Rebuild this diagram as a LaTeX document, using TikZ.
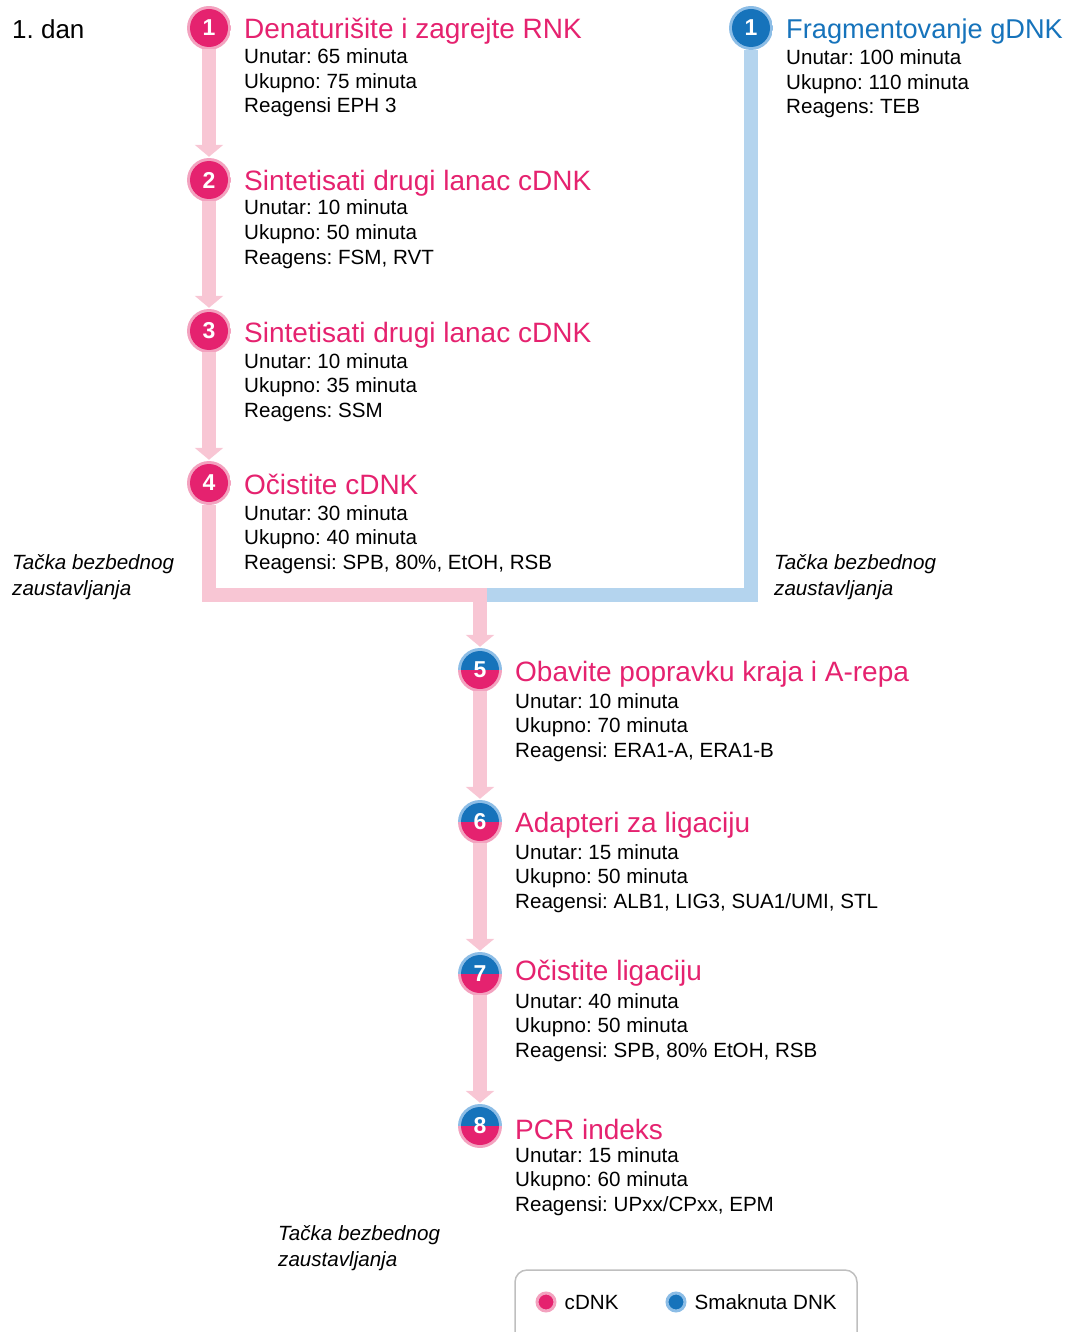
\documentclass[tikz,border=0pt]{standalone}
\usepackage{fontspec}
\setmainfont{Liberation Sans}
\usetikzlibrary{positioning,arrows.meta}

\definecolor{cdnapink}{HTML}{E5226F}
\definecolor{pinkline}{HTML}{F8C6D4}
\definecolor{pinkring}{HTML}{F3A2BF}
\definecolor{dnablue}{HTML}{1673BB}
\definecolor{blueline}{HTML}{B4D4EE}
\definecolor{bluering}{HTML}{8CBDE6}

\tikzset{
  stepnum/.style n args={4}{circle, inner sep=0pt, minimum size=44pt, text=white,
    font=\bfseries\fontsize{23}{23}\selectfont,
    path picture={
      \fill[#2] (path picture bounding box.west) rectangle (path picture bounding box.north east);
      \fill[#4] (path picture bounding box.west) rectangle (path picture bounding box.south east);
      \begin{scope}
        \clip (path picture bounding box.west) rectangle (path picture bounding box.north east);
        \fill[#1] (path picture bounding box.center) circle (19pt);
      \end{scope}
      \begin{scope}
        \clip (path picture bounding box.west) rectangle (path picture bounding box.south east);
        \fill[#3] (path picture bounding box.center) circle (19pt);
      \end{scope}
    }},
  cdnastep/.style={stepnum={cdnapink}{pinkring}{cdnapink}{pinkring}},
  dnastep/.style={stepnum={dnablue}{bluering}{dnablue}{bluering}},
  mixstep/.style={stepnum={dnablue}{bluering}{cdnapink}{pinkring}},
  steptitle/.style={anchor=base west, inner sep=0pt, text=cdnapink, font=\fontsize{28}{28}\selectfont},
  stepinfo/.style={anchor=base west, inner sep=0pt, align=left, font=\fontsize{20.6}{24.5}\selectfont},
  safestop/.style={anchor=base west, inner sep=0pt, align=left, font=\itshape\fontsize{20.6}{25.5}\selectfont},
  flow/.style={line width=14pt, draw=pinkline, shorten <=-1pt, shorten >=1pt, -{Triangle[width=28pt,length=12pt]}},
  pinkbar/.style={line width=14pt, draw=pinkline},
  bluebar/.style={line width=14pt, draw=blueline},
  legenddot/.style={circle, inner sep=0pt, minimum size=18pt, line width=3pt},
  legendtext/.style={inner sep=0pt, font=\fontsize{20.6}{20.6}\selectfont}
}

\begin{document}
\frenchspacing
\begin{tikzpicture}[x=1pt,y=-1pt]
\useasboundingbox (0,0) rectangle (1068,1332);

\node[anchor=base west, inner sep=0pt, font=\fontsize{26}{26}\selectfont] (day) at (12,39) {1. dan};

% cDNK grana
\path (209,28) node[cdnastep] (s_1) {1}
(244,39) node[steptitle] (title_1) {Denaturišite i zagrejte RNK}
(244,113) node[stepinfo] (info_1) {Unutar: 65 minuta\\Ukupno: 75 minuta\\Reagensi EPH 3}
(209,180) node[cdnastep] (s_2) {2}
(244,191) node[steptitle] (title_2) {Sintetisati drugi lanac cDNK}
(244,264) node[stepinfo] (info_2) {Unutar: 10 minuta\\Ukupno: 50 minuta\\Reagens: FSM, RVT}
(209,331) node[cdnastep] (s_3) {3}
(244,342) node[steptitle] (title_3) {Sintetisati drugi lanac cDNK}
(244,417) node[stepinfo] (info_3) {Unutar: 10 minuta\\Ukupno: 35 minuta\\Reagens: SSM}
(209,483) node[cdnastep] (s_4) {4}
(244,494) node[steptitle] (title_4) {Očistite cDNK}
(244,569) node[stepinfo] (info_4) {Unutar: 30 minuta\\Ukupno: 40 minuta\\Reagensi: SPB, 80\%, EtOH, RSB}
;

% gDNK grana
\path (751,28) node[dnastep] (gs_1) {1}
(786,39) node[steptitle, text=dnablue, font=\fontsize{27.2}{27.2}\selectfont] (gtitle_1) {Fragmentovanje gDNK}
(786,114) node[stepinfo] (ginfo_1) {Unutar: 100 minuta\\Ukupno: 110 minuta\\Reagens: TEB}
;

% zajednicki deo
\path (480,670) node[mixstep] (s_5) {5}
(515,681) node[steptitle] (title_5) {Obavite popravku kraja i A-repa}
(515,757) node[stepinfo] (info_5) {Unutar: 10 minuta\\Ukupno: 70 minuta\\Reagensi: ERA1-A, ERA1-B}
(480,822) node[mixstep] (s_6) {6}
(515,832) node[steptitle] (title_6) {Adapteri za ligaciju}
(515,908) node[stepinfo] (info_6) {Unutar: 15 minuta\\Ukupno: 50 minuta\\Reagensi: ALB1, LIG3, SUA1/UMI, STL}
(480,974) node[mixstep] (s_7) {7}
(515,980) node[steptitle] (title_7) {Očistite ligaciju}
(515,1057) node[stepinfo] (info_7) {Unutar: 40 minuta\\Ukupno: 50 minuta\\Reagensi: SPB, 80\% EtOH, RSB}
(480,1126) node[mixstep] (s_8) {8}
(515,1139) node[steptitle] (title_8) {PCR indeks}
(515,1211) node[stepinfo] (info_8) {Unutar: 15 minuta\\Ukupno: 60 minuta\\Reagensi: UPxx/CPxx, EPM}
;

\node[safestop] (stop_l) at (12,595) {Tačka bezbednog\\zaustavljanja};
\node[safestop] (stop_r) at (774,595) {Tačka bezbednog\\zaustavljanja};
\node[safestop] (stop_b) at (278,1266) {Tačka bezbednog\\zaustavljanja};

\coordinate (merge) at (480,595);
\coordinate (joinpt) at (487,595);

\draw[flow] (s_1) -- (s_2);
\draw[flow] (s_2) -- (s_3);
\draw[flow] (s_3) -- (s_4);
\draw[bluebar] (gs_1) |- (joinpt);
\draw[pinkbar] (s_4) |- (joinpt);
\draw[flow, shorten <=0pt] (merge) -- (s_5);
\draw[flow] (s_5) -- (s_6);
\draw[flow] (s_6) -- (s_7);
\draw[flow] (s_7) -- (s_8);

% legenda
\draw[draw=black!25, line width=1.5pt, rounded corners=12pt] (515,1270) rectangle (857,1350);
\node[legenddot, fill=cdnapink, draw=pinkring] (key_c) at (546,1302) {};
\node[legendtext, right=8pt of key_c] (key_c_text) {cDNK};
\node[legenddot, fill=dnablue, draw=bluering] (key_g) at (676,1302) {};
\node[legendtext, right=8pt of key_g] (key_g_text) {Smaknuta DNK};
\end{tikzpicture}
\end{document}
